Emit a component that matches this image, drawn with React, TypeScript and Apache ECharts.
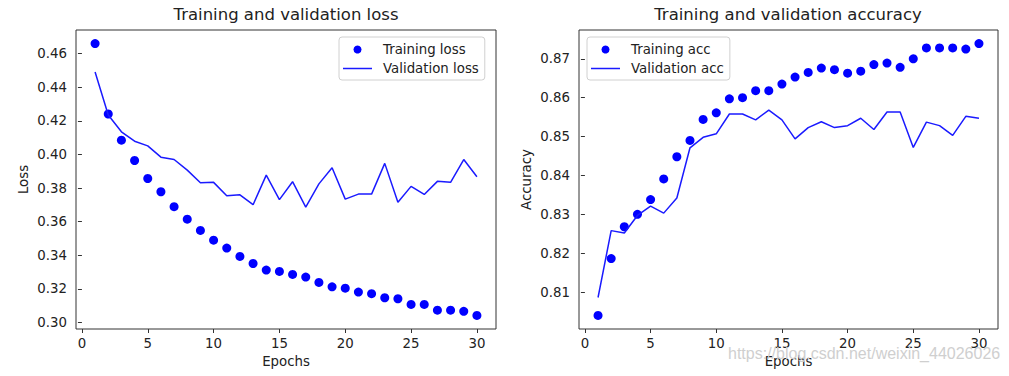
import React, { useEffect, useRef } from "react";
import * as echarts from "echarts";

const epochs = Array.from({ length: 30 }, (_, i) => i + 1);

const trainingLoss = [
  0.466, 0.4241, 0.4085, 0.3964, 0.3857, 0.3778, 0.3689, 0.3615, 0.3548, 0.349,
  0.3443, 0.3393, 0.3351, 0.3312, 0.3304, 0.3286, 0.327, 0.3238, 0.3212, 0.3204,
  0.3181, 0.3171, 0.3147, 0.3141, 0.3107, 0.3107, 0.3073, 0.3073, 0.3066, 0.3042,
];
const validationLoss = [
  0.4491, 0.4235, 0.4135, 0.4079, 0.4051, 0.3984, 0.397, 0.3907, 0.3832, 0.3834,
  0.3754, 0.376, 0.3701, 0.3877, 0.3731, 0.3838, 0.3687, 0.3825, 0.3921, 0.3734,
  0.3764, 0.3764, 0.3947, 0.3715, 0.381, 0.3762, 0.384, 0.3834, 0.397, 0.3867,
];
const trainingAcc = [
  0.804, 0.8186, 0.8268, 0.83, 0.8338, 0.8391, 0.8448, 0.849, 0.8544, 0.8561,
  0.8597, 0.86, 0.8618, 0.8618, 0.8635, 0.8653, 0.8665, 0.8676, 0.8672, 0.8663,
  0.8668, 0.8685, 0.8689, 0.8678, 0.87, 0.8728, 0.8728, 0.8728, 0.8725, 0.8739,
];
const validationAcc = [
  0.8086, 0.8258, 0.8252, 0.8297, 0.8321, 0.8303, 0.8342, 0.8471, 0.8498, 0.8507,
  0.8558, 0.8558, 0.8543, 0.8568, 0.8543, 0.8494, 0.8523, 0.8538, 0.8523, 0.8528,
  0.8547, 0.8518, 0.8563, 0.8563, 0.8472, 0.8537, 0.8528, 0.8503, 0.8552, 0.8547,
];

const xTicks = [0, 5, 10, 15, 20, 25, 30];
const lossTicks = [0.3, 0.32, 0.34, 0.36, 0.38, 0.4, 0.42, 0.44, 0.46];
const accTicks = [0.81, 0.82, 0.83, 0.84, 0.85, 0.86, 0.87];

const FONT = "DejaVu Sans";
const TXT = "#222";
const AX = "#333";
const BLUE = "#0000ff";
const LINE_BLUE = "#1a1aff";
const LINE_ICON = "path://M0,0 L29,0 L29,1.5 L0,1.5 Z";

function xAxisCfg(gridIndex: number) {
  return {
    type: "value",
    gridIndex,
    min: -0.45,
    max: 31.45,
    name: "Epochs",
    nameLocation: "middle",
    nameGap: 26,
    nameTextStyle: { fontFamily: FONT, fontSize: 13.33, color: TXT },
    axisLine: { show: false },
    splitLine: { show: false },
    axisTick: { show: true, inside: false, length: 4, lineStyle: { color: AX }, customValues: xTicks },
    axisLabel: {
      fontFamily: FONT,
      fontSize: 13.33,
      color: TXT,
      margin: 8,
      customValues: xTicks,
      formatter: (v: number) => String(v),
    },
  };
}

function yAxisCfg(gridIndex: number, name: string, min: number, max: number, ticks: number[], digits: number) {
  return {
    type: "value",
    gridIndex,
    min,
    max,
    name,
    nameLocation: "middle",
    nameGap: 46,
    nameTextStyle: { fontFamily: FONT, fontSize: 13.33, color: TXT },
    axisLine: { show: false },
    splitLine: { show: false },
    axisTick: { show: true, inside: false, length: 4, lineStyle: { color: AX }, customValues: ticks },
    axisLabel: {
      fontFamily: FONT,
      fontSize: 13.33,
      color: TXT,
      margin: 9,
      customValues: ticks,
      formatter: (v: number) => v.toFixed(digits),
    },
  };
}

function legendCfg(left: number, dotName: string, lineName: string) {
  return {
    orient: "vertical",
    left,
    top: 37,
    padding: [6, 6, 5, 4],
    itemGap: 6,
    itemWidth: 29,
    itemHeight: 8,
    borderColor: "#d0d0d0",
    borderWidth: 1,
    borderRadius: 3,
    backgroundColor: "rgba(255,255,255,0.8)",
    data: [
      { name: dotName, icon: "circle" },
      { name: lineName, icon: LINE_ICON },
    ],
    textStyle: { fontFamily: FONT, fontSize: 13.33, color: TXT, padding: [0, 0, 0, 6] },
  };
}

export default function App() {
  const ref = useRef<HTMLDivElement>(null);
  useEffect(() => {
    if (!ref.current) return;
    const chart = echarts.init(ref.current, null, { renderer: "svg" });
    const pairs = (arr: number[]) => epochs.map((e, i) => [e, arr[i]]);
    chart.setOption({
      animation: false,
      backgroundColor: "#ffffff",
      title: [
        {
          text: "Training and validation loss",
          left: 286,
          top: 6,
          textAlign: "center",
          padding: 0,
          textStyle: { fontFamily: FONT, fontSize: 16.5, fontWeight: "normal", color: TXT },
        },
        {
          text: "Training and validation accuracy",
          left: 788,
          top: 6,
          textAlign: "center",
          padding: 0,
          textStyle: { fontFamily: FONT, fontSize: 16.5, fontWeight: "normal", color: TXT },
        },
      ],
      legend: [
        legendCfg(339, "Training loss", "Validation loss"),
        legendCfg(587, "Training acc", "Validation acc"),
      ],
      grid: [
        { left: 76, right: 513, top: 30, bottom: 47, show: true, borderColor: AX, borderWidth: 1, backgroundColor: "transparent", outerBoundsMode: "none" },
        { left: 579, right: 11, top: 30, bottom: 47, show: true, borderColor: AX, borderWidth: 1, backgroundColor: "transparent", outerBoundsMode: "none" },
      ],
      xAxis: [xAxisCfg(0), xAxisCfg(1)],
      yAxis: [
        yAxisCfg(0, "Loss", 0.2961, 0.4741, lossTicks, 2),
        yAxisCfg(1, "Accuracy", 0.8005, 0.8774, accTicks, 2),
      ],
      series: [
        {
          name: "Training loss",
          type: "scatter",
          xAxisIndex: 0,
          yAxisIndex: 0,
          symbol: "circle",
          symbolSize: 9,
          itemStyle: { color: BLUE, opacity: 1 },
          data: pairs(trainingLoss),
        },
        {
          name: "Validation loss",
          type: "line",
          xAxisIndex: 0,
          yAxisIndex: 0,
          symbol: "none",
          showSymbol: false,
          lineStyle: { color: LINE_BLUE, width: 1.5 },
          itemStyle: { color: LINE_BLUE },
          data: pairs(validationLoss),
        },
        {
          name: "Training acc",
          type: "scatter",
          xAxisIndex: 1,
          yAxisIndex: 1,
          symbol: "circle",
          symbolSize: 9,
          itemStyle: { color: BLUE, opacity: 1 },
          data: pairs(trainingAcc),
        },
        {
          name: "Validation acc",
          type: "line",
          xAxisIndex: 1,
          yAxisIndex: 1,
          symbol: "none",
          showSymbol: false,
          lineStyle: { color: LINE_BLUE, width: 1.5 },
          itemStyle: { color: LINE_BLUE },
          data: pairs(validationAcc),
        },
      ],
      graphic: [
        {
          type: "text",
          x: 728,
          y: 353,
          z: 100,
          style: {
            text: "https://blog.csdn.net/weixin_44026026",
            fontFamily: "Liberation Sans",
            fontSize: 16,
            fill: "#cfcfcf",
            verticalAlign: "middle",
            align: "left",
          },
        },
      ],
    });
    return () => chart.dispose();
  }, []);
  return (
    <div
      ref={ref}
      style={{ position: "absolute", left: 0, top: 0, width: 1009, height: 376 }}
    />
  );
}
